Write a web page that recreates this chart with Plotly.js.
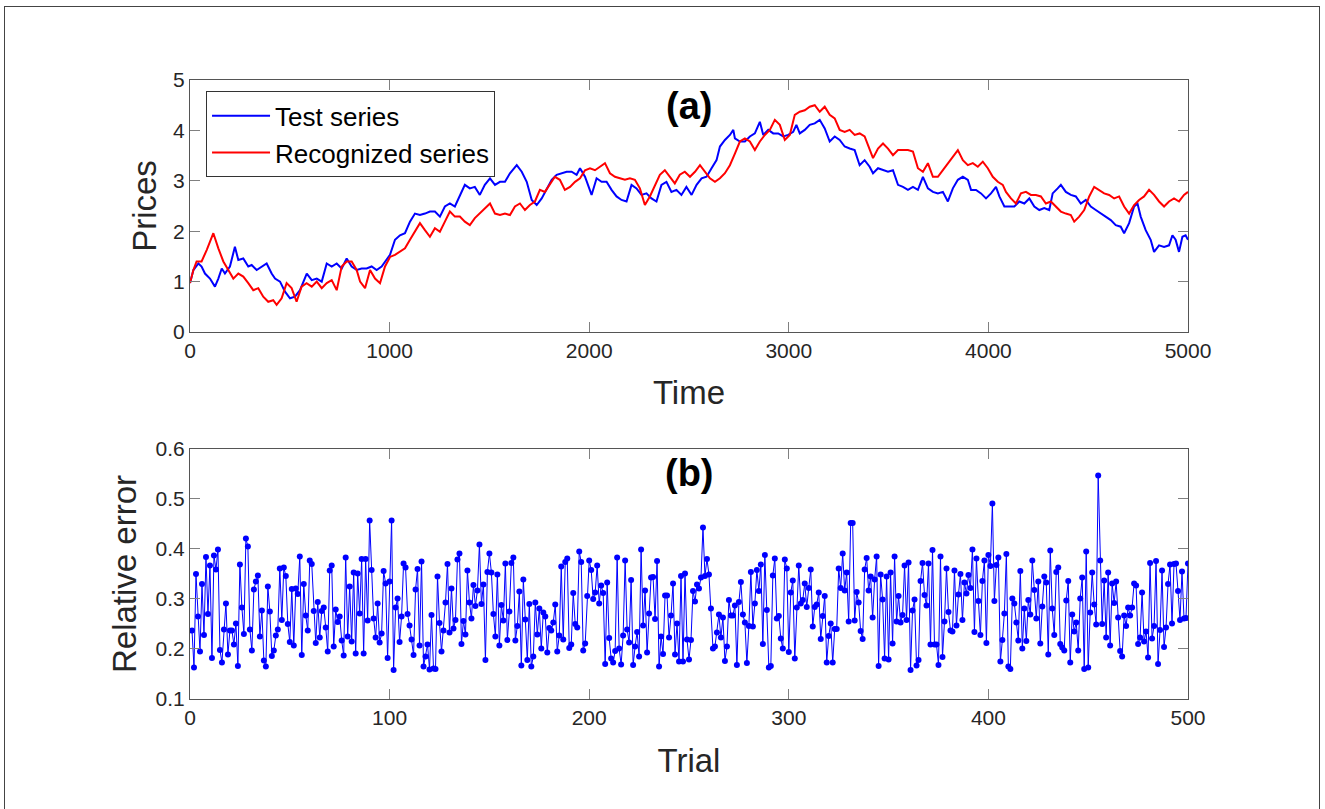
<!DOCTYPE html>
<html>
<head>
<meta charset="utf-8">
<script src="https://cdn.plot.ly/plotly-3.0.1.min.js"></script>
<style>
  html, body { margin: 0; padding: 0; background: #ffffff; }
  #chart { position: absolute; left: 0; top: 0; width: 1325px; height: 809px; }
  #frame { position: absolute; left: 4px; top: 6px; width: 1314px; height: 820px;
           border-left: 1px solid #444; border-top: 1px solid #444; border-right: 1px solid #444;
           pointer-events: none; z-index: 5; }
</style>
</head>
<body>
<div id="chart"></div>
<div id="frame"></div>
<script>
// ---- Panel (a): Test series (blue) ----
const testTime = [0,17,42,58,75,100,125,142,159,175,200,225,242,267,292,309,334,359,384,409,426,451,476,501,526,551,585,610,635,660,685,710,735,760,785,810,835,860,885,910,935,960,985,1002,1027,1052,1077,1102,1127,1152,1177,1202,1227,1252,1277,1302,1327,1352,1377,1402,1427,1452,1477,1503,1528,1553,1578,1603,1637,1662,1687,1712,1737,1762,1787,1812,1837,1862,1887,1912,1937,1954,1979,2012,2037,2062,2087,2112,2137,2162,2187,2212,2237,2262,2287,2312,2337,2362,2387,2412,2437,2462,2487,2513,2538,2563,2588,2613,2638,2655,2680,2705,2722,2730,2755,2780,2805,2830,2855,2872,2897,2922,2947,2972,2997,3022,3038,3055,3080,3105,3130,3155,3180,3205,3230,3255,3280,3305,3330,3355,3380,3405,3422,3447,3472,3497,3522,3547,3572,3597,3622,3647,3672,3697,3722,3747,3772,3797,3822,3847,3872,3897,3913,3938,3963,3988,4013,4038,4055,4080,4105,4130,4155,4180,4205,4230,4255,4280,4305,4322,4347,4363,4388,4413,4438,4463,4488,4513,4538,4563,4588,4613,4638,4663,4680,4705,4730,4747,4763,4788,4813,4830,4855,4880,4905,4922,4938,4955,4972,4988,5000];
const testPrice = [0.97,1.23,1.36,1.30,1.16,1.06,0.90,1.06,1.26,1.16,1.30,1.69,1.43,1.46,1.30,1.33,1.23,1.30,1.36,1.16,1.06,1.00,0.80,0.67,0.70,0.83,1.16,1.03,1.06,1.00,1.36,1.30,1.36,1.26,1.46,1.30,1.23,1.26,1.26,1.30,1.23,1.30,1.43,1.53,1.83,1.92,1.96,2.19,2.35,2.32,2.35,2.39,2.39,2.29,2.49,2.55,2.49,2.69,2.92,2.85,2.88,2.72,2.92,3.05,2.92,2.98,2.98,3.15,3.31,3.18,2.98,2.62,2.52,2.65,2.85,3.02,3.12,3.15,3.18,3.18,3.12,3.25,3.08,2.72,3.05,2.98,2.98,2.82,2.69,2.62,2.59,2.92,2.85,2.72,2.75,2.65,2.59,2.92,2.98,2.78,2.82,2.72,2.88,2.72,2.92,3.05,3.08,3.25,3.41,3.68,3.81,3.91,4.01,3.84,3.78,3.78,3.88,3.94,4.17,3.91,4.01,3.94,3.94,3.88,3.91,3.97,4.11,3.94,4.01,4.11,4.14,4.21,4.04,3.78,3.88,3.81,3.68,3.64,3.61,3.31,3.41,3.28,3.15,3.25,3.21,3.18,3.21,2.92,2.88,2.82,2.88,2.82,3.08,2.85,2.78,2.75,2.78,2.59,2.85,3.02,3.08,3.02,2.82,2.82,2.75,2.65,2.75,2.88,2.69,2.49,2.49,2.49,2.59,2.55,2.65,2.49,2.42,2.46,2.42,2.75,2.85,2.92,2.78,2.72,2.69,2.55,2.62,2.49,2.42,2.35,2.29,2.22,2.12,2.09,1.96,2.16,2.49,2.55,2.29,2.02,1.83,1.59,1.72,1.69,1.72,1.92,1.83,1.59,1.89,1.92,1.83];

// ---- Panel (a): Recognized series (red) ----
const recTime = [0,17,33,58,84,117,142,167,192,217,242,267,292,317,342,367,392,417,434,459,484,509,534,559,584,610,635,660,685,710,735,760,785,810,835,852,877,902,927,952,977,1002,1027,1052,1077,1102,1127,1152,1177,1202,1227,1252,1277,1302,1327,1352,1377,1402,1427,1452,1477,1503,1528,1553,1578,1603,1628,1653,1678,1703,1728,1753,1778,1803,1828,1853,1878,1904,1929,1954,1979,2004,2029,2054,2079,2104,2129,2154,2179,2204,2229,2254,2279,2304,2329,2354,2379,2404,2429,2454,2479,2505,2530,2555,2580,2605,2630,2655,2680,2705,2730,2755,2780,2805,2830,2855,2880,2905,2930,2955,2980,3005,3030,3055,3080,3105,3130,3155,3180,3205,3230,3255,3280,3305,3330,3355,3380,3405,3422,3447,3472,3497,3522,3547,3572,3597,3622,3647,3672,3697,3722,3747,3772,3797,3822,3847,3872,3897,3922,3947,3972,3997,4022,4047,4072,4088,4113,4138,4163,4188,4213,4238,4263,4288,4313,4338,4363,4388,4413,4430,4455,4480,4505,4530,4555,4580,4605,4630,4655,4680,4705,4730,4755,4780,4805,4830,4855,4880,4905,4930,4955,4980,5000];
const recPrice = [0.97,1.23,1.40,1.40,1.63,1.96,1.66,1.40,1.23,1.06,1.16,1.10,0.97,0.83,0.87,0.70,0.60,0.63,0.54,0.67,0.97,0.87,0.60,0.90,0.97,0.90,1.00,0.87,0.97,1.03,0.83,1.30,1.40,1.40,1.23,1.00,0.87,1.23,1.06,0.97,1.30,1.49,1.53,1.59,1.66,1.83,1.99,2.16,2.02,1.89,2.06,1.99,2.19,2.39,2.29,2.29,2.19,2.12,2.26,2.35,2.45,2.55,2.35,2.32,2.35,2.32,2.49,2.55,2.42,2.52,2.59,2.82,2.78,2.92,3.08,3.02,2.82,2.88,2.98,3.05,3.21,3.25,3.21,3.28,3.35,3.15,3.08,3.05,3.02,3.05,3.02,2.85,2.52,2.69,2.92,3.12,3.21,3.08,2.95,3.12,3.18,3.08,3.18,3.31,3.18,3.05,2.98,3.05,3.15,3.31,3.54,3.78,3.84,3.78,3.61,3.78,3.91,4.01,4.21,4.11,3.81,3.91,4.31,4.37,4.40,4.47,4.50,4.37,4.47,4.31,4.24,4.01,3.97,4.01,3.91,3.94,3.88,3.64,3.45,3.64,3.74,3.64,3.51,3.61,3.61,3.61,3.58,3.25,3.18,3.35,3.08,3.08,3.21,3.35,3.48,3.61,3.41,3.31,3.35,3.28,3.38,3.25,3.08,2.98,2.92,2.78,2.65,2.55,2.75,2.78,2.72,2.72,2.69,2.55,2.59,2.49,2.39,2.35,2.32,2.19,2.29,2.42,2.69,2.88,2.82,2.75,2.72,2.65,2.69,2.49,2.35,2.52,2.62,2.69,2.82,2.72,2.59,2.49,2.59,2.65,2.59,2.72,2.78];

// ---- Panel (b): relative error per trial ----
const relError = [
0.237,0.163,0.350,0.265,0.195,0.330,0.228,0.384,0.270,0.367,
0.182,0.387,0.359,0.399,0.198,0.173,0.239,0.291,0.189,0.237,
0.237,0.209,0.251,0.166,0.369,0.283,0.230,0.421,0.405,0.239,
0.197,0.319,0.335,0.347,0.225,0.277,0.177,0.165,0.325,0.275,
0.186,0.197,0.227,0.239,0.361,0.258,0.363,0.346,0.250,0.214,
0.320,0.207,0.321,0.310,0.385,0.188,0.330,0.267,0.237,0.377,
0.370,0.276,0.212,0.294,0.223,0.276,0.283,0.243,0.195,0.357,
0.367,0.205,0.279,0.254,0.265,0.217,0.187,0.383,0.225,0.325,
0.215,0.353,0.191,0.351,0.271,0.380,0.191,0.380,0.257,0.457,
0.358,0.261,0.223,0.291,0.213,0.231,0.356,0.331,0.182,0.335,
0.457,
0.158,0.283,0.301,0.214,0.265,0.371,0.363,0.270,0.247,0.219,
0.188,0.319,0.360,0.207,0.375,0.165,0.185,0.209,0.159,0.268,
0.161,0.160,0.345,0.252,0.195,0.237,0.293,0.370,0.233,0.321,
0.241,0.258,0.379,0.391,0.210,0.256,0.229,0.357,0.293,0.261,
0.328,0.286,0.317,0.409,0.290,0.329,0.178,0.354,0.391,0.353,
0.270,0.225,0.349,0.207,0.288,0.257,0.371,0.218,0.275,0.372,
0.383,0.217,0.246,0.315,0.167,0.339,0.259,0.178,0.290,0.165,
0.185,0.293,0.229,0.281,0.201,0.273,0.265,0.193,0.242,0.237,
0.253,0.289,0.195,0.227,0.365,0.219,0.374,0.381,0.202,0.209,
0.312,0.250,0.243,0.395,0.374,0.197,0.211,0.306,0.377,0.358,
0.300,0.313,0.367,0.291,0.327,0.312,0.170,0.333,0.222,0.181,
0.173,0.196,0.383,0.201,0.169,0.227,0.377,0.239,0.213,0.338,
0.168,0.205,0.234,0.185,0.399,0.247,0.317,0.193,0.271,0.343,
0.344,0.260,0.376,0.165,0.225,0.190,0.307,0.307,0.223,0.267,
0.331,0.189,0.251,0.175,0.346,0.175,0.351,0.219,0.179,0.218,
0.316,0.295,0.329,0.321,0.343,0.443,0.346,0.380,0.349,0.281,
0.201,0.205,0.233,0.269,0.223,0.263,0.176,0.205,0.298,0.267,
0.267,0.287,0.168,0.294,0.334,0.269,0.253,0.172,0.246,0.354,
0.245,0.291,0.358,0.316,0.369,0.210,0.388,0.278,0.163,0.166,
0.347,0.381,0.261,0.266,0.221,0.201,0.379,0.361,0.194,
0.313,0.337,0.181,0.283,0.367,0.291,0.298,0.331,0.284,0.322,
0.359,0.245,0.284,0.289,0.313,0.220,0.266,0.306,0.173,0.226,
0.251,0.173,0.240,0.240,0.361,0.322,0.391,0.317,0.353,0.255,
0.452,0.452,0.257,0.314,0.293,0.236,0.220,0.359,0.382,0.317,
0.345,0.263,0.339,0.385,0.166,0.349,0.299,0.181,0.345,0.179,
0.353,0.211,0.385,0.255,0.306,0.253,0.268,0.367,0.258,0.373,
0.158,0.277,0.299,0.167,0.178,0.336,0.372,0.308,0.287,0.371,
0.209,0.398,0.209,0.209,0.168,0.385,0.184,0.255,0.361,0.274,
0.237,0.235,0.357,0.247,0.309,0.350,0.258,0.333,0.311,0.348,
0.322,0.399,0.234,0.381,0.296,0.228,0.336,0.377,0.212,0.388,
0.366,0.491,0.296,0.368,0.383,0.175,0.218,0.271,0.390,0.165,
0.160,0.301,0.291,0.253,0.217,0.356,0.201,0.281,0.216,0.298,
0.269,0.377,0.318,0.261,0.335,0.211,0.285,0.345,0.333,0.189,
0.397,0.281,0.228,0.354,0.363,0.210,0.203,0.197,0.297,0.336,
0.173,0.269,0.235,0.253,0.197,0.301,0.343,0.160,0.395,0.163,
0.273,0.353,0.289,0.249,0.547,0.377,0.250,0.337,0.223,0.353,
0.207,0.331,0.292,0.335,0.263,0.196,0.185,0.267,0.246,0.283,
0.267,0.283,0.331,0.327,0.210,0.223,0.313,0.215,0.235,0.183,
0.372,0.221,0.246,0.376,0.170,0.238,0.357,0.204,0.243,0.330,
0.369,0.251,0.370,0.371,0.316,0.258,0.355,0.261,0.262,0.371
];
const trials = relError.map((_, i) => i + 1);

// ---- Tick labels ----
const timeTicks = [0, 1000, 2000, 3000, 4000, 5000];
const priceTicks = [0, 1, 2, 3, 4, 5];
const trialTicks = [0, 100, 200, 300, 400, 500];
const errorTicks = [0.1, 0.2, 0.3, 0.4, 0.5, 0.6];
const errorTickText = ['0.1', '0.2', '0.3', '0.4', '0.5', '0.6'];

const FONT = 'Liberation Sans, Arial, Helvetica, sans-serif';
const TXT = '#262626';

function axisStyle(extra) {
  return Object.assign({
    showline: true, mirror: 'ticks', linecolor: '#555555', linewidth: 1,
    ticks: 'inside', ticklen: 10, tickcolor: '#808080', tickwidth: 1,
    showgrid: false, zeroline: false,
    tickfont: { family: FONT, size: 21, color: TXT }
  }, extra);
}

const traces = [
  { x: testTime, y: testPrice, type: 'scatter', mode: 'lines', name: 'Test series',
    line: { color: '#0000ff', width: 2 }, xaxis: 'x', yaxis: 'y' },
  { x: recTime, y: recPrice, type: 'scatter', mode: 'lines', name: 'Recognized series',
    line: { color: '#ff0000', width: 2 }, xaxis: 'x', yaxis: 'y' },
  { x: trials, y: relError, type: 'scatter', mode: 'lines+markers', name: 'Relative error',
    line: { color: '#0000ff', width: 1 }, marker: { color: '#0000ff', size: 6 },
    xaxis: 'x2', yaxis: 'y2', showlegend: false }
];

const layout = {
  width: 1325, height: 809,
  margin: { l: 0, r: 0, t: 0, b: 0 },
  paper_bgcolor: '#ffffff', plot_bgcolor: '#ffffff',
  font: { family: FONT, color: TXT },
  showlegend: true,
  legend: {
    x: 0.1555, y: 0.887, xanchor: 'left', yanchor: 'top',
    bgcolor: '#ffffff', bordercolor: '#333333', borderwidth: 1,
    font: { family: FONT, size: 26, color: '#000000' },
    itemwidth: 58, tracegroupgap: 0
  },
  xaxis: axisStyle({
    domain: [0.1434, 0.8966], anchor: 'y', range: [0, 5000],
    tickvals: timeTicks, ticktext: timeTicks.map(String),
    title: { text: 'Time', font: { family: FONT, size: 33, color: TXT }, standoff: 19 }
  }),
  yaxis: axisStyle({
    domain: [0.5896, 0.9011], anchor: 'x', range: [0, 5],
    tickvals: priceTicks, ticktext: priceTicks.map(String),
    title: { text: 'Prices', font: { family: FONT, size: 33, color: TXT }, standoff: 6 }
  }),
  xaxis2: axisStyle({
    domain: [0.1434, 0.8966], anchor: 'y2', range: [0, 500],
    tickvals: trialTicks, ticktext: trialTicks.map(String),
    title: { text: 'Trial', font: { family: FONT, size: 33, color: TXT }, standoff: 20 }
  }),
  yaxis2: axisStyle({
    domain: [0.136, 0.445], anchor: 'x2', range: [0.1, 0.6],
    tickvals: errorTicks, ticktext: errorTickText,
    title: { text: 'Relative error', font: { family: FONT, size: 33, color: TXT }, standoff: 9 }
  }),
  annotations: [
    { text: '<b>(a)</b>', xref: 'paper', yref: 'paper', x: 0.52, y: 0.869,
      xanchor: 'center', yanchor: 'middle', showarrow: false,
      font: { family: FONT, size: 38, color: '#000000' } },
    { text: '<b>(b)</b>', xref: 'paper', yref: 'paper', x: 0.52, y: 0.415,
      xanchor: 'center', yanchor: 'middle', showarrow: false,
      font: { family: FONT, size: 38, color: '#000000' } }
  ]
};

Plotly.newPlot('chart', traces, layout, { displayModeBar: false, staticPlot: true });
</script>
</body>
</html>
